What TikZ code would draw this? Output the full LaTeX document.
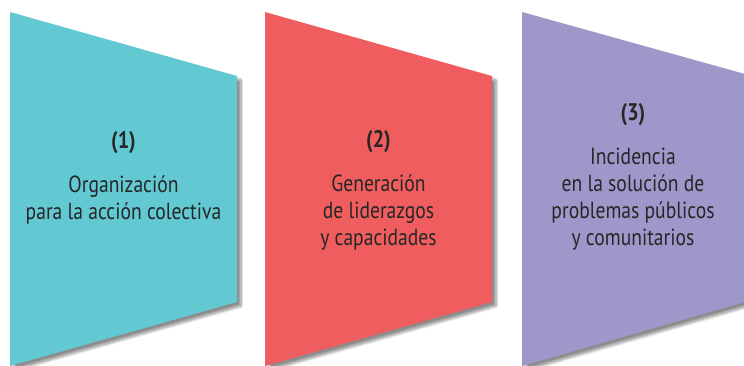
\documentclass[tikz,border=0pt]{standalone}
\usepackage{fontspec}
\setmainfont[FakeStretch=0.84]{PT Sans}
\usetikzlibrary{shadows.blur}
\definecolor{turquesa}{RGB}{98,200,210}
\definecolor{coral}{RGB}{240,93,94}
\definecolor{lila}{RGB}{158,151,201}
\tikzset{
  panel/.style = {draw=none, blur shadow={shadow xshift=3pt,
    shadow yshift=-3pt, shadow blur steps=8, shadow opacity=45}},% panel trapezoidal
  titulo/.style = {font=\bfseries\fontsize{18}{20}\selectfont, text=black!85},% numero
  texto/.style = {align=center, inner sep=0pt, text=black!85,
    font=\fontsize{17.5}{20.3}\selectfont}% descripcion
}
\begin{document}
\begin{tikzpicture}[x=0.75pt, y=-0.75pt]
\useasboundingbox (0,0) rectangle (744,365);
% paneles
\fill[panel, fill=turquesa] (10,12) -- (237,76) -- (237,302) -- (10,366) -- cycle;
\fill[panel, fill=coral] (265,12) -- (492,76) -- (492,302) -- (265,366) -- cycle;
\fill[panel, fill=lila] (522,12) -- (745,74) -- (745,302) -- (522,366) -- cycle;
% textos
\node [titulo] (t1) at (123.5,143) {(1)};
\node [texto] (d1) at (123.5,199.5) {Organización\\para la acción colectiva};
\node [titulo] (t2) at (378.5,142) {(2)};
\node [texto] (d2) at (378.5,212.5) {Generación\\de liderazgos\\y capacidades};
\node [titulo] (t3) at (633,115) {(3)};
\node [texto] (d3) at (633,199.5) {Incidencia\\en la solución de\\problemas públicos\\y comunitarios};
\end{tikzpicture}
\end{document}
